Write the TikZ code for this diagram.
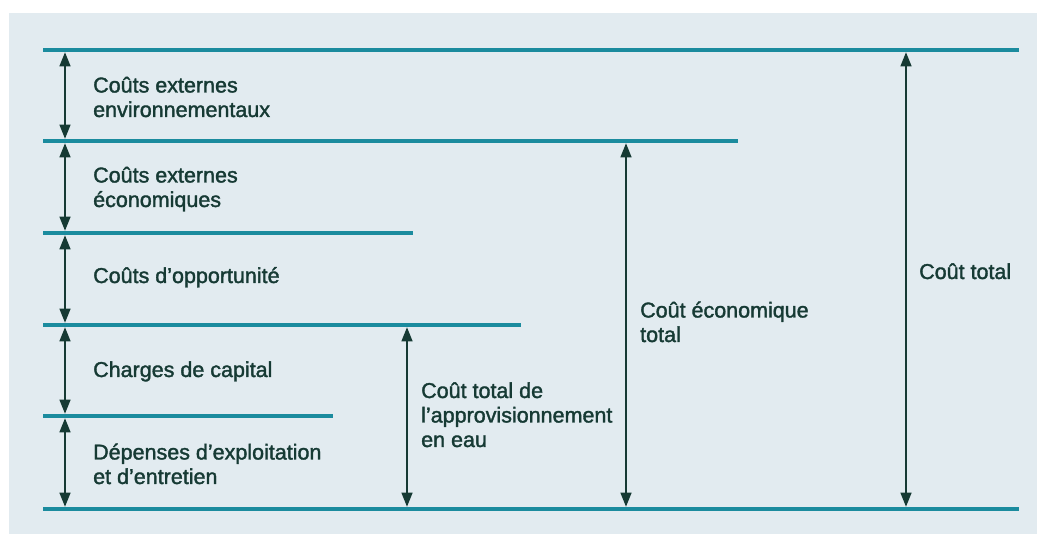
\documentclass[tikz,border=0pt]{standalone}
\usepackage{fontspec}
\setmainfont{Liberation Sans}
\newfontfamily\lblfont{Liberation Sans}[FakeBold=1.6]
\usetikzlibrary{arrows.meta}
\definecolor{bgblue}{RGB}{226,235,240}
\definecolor{levelteal}{RGB}{27,139,158}
\definecolor{inkgreen}{RGB}{22,58,52}
\begin{document}
\begin{tikzpicture}[x=1pt,y=-1pt,
  level/.style={levelteal,line width=4.5pt},
  span/.style={inkgreen,line width=1.3pt,{Triangle[width=11pt,length=14pt]}-{Triangle[width=11pt,length=14pt]},shorten <=2.3pt,shorten >=2.3pt},
  lbl/.style={inkgreen,font=\lblfont\fontsize{21.5}{24.5}\selectfont,anchor=base west,align=left,inner sep=0pt}]
\useasboundingbox (0,0) rectangle (1037,534);
\fill [white] (0,0) rectangle (1037,534);
\fill [bgblue] (9,13) rectangle (1037,534);
\coordinate (lv0) at (43,50);
\coordinate (lv1) at (43,141);
\coordinate (lv2) at (43,233);
\coordinate (lv3) at (43,325);
\coordinate (lv4) at (43,416);
\coordinate (lv5) at (43,509);
\coordinate (axl) at (65,0);
\coordinate (axw) at (407,0);
\coordinate (axe) at (626,0);
\coordinate (axt) at (906,0);
\draw [span] (axl |- lv0) -- (axl |- lv1);
\draw [span] (axl |- lv1) -- (axl |- lv2);
\draw [span] (axl |- lv2) -- (axl |- lv3);
\draw [span] (axl |- lv3) -- (axl |- lv4);
\draw [span] (axl |- lv4) -- (axl |- lv5);
\draw [span] (axw |- lv3) -- (axw |- lv5);
\draw [span] (axe |- lv1) -- (axe |- lv5);
\draw [span] (axt |- lv0) -- (axt |- lv5);
\draw [level] (lv0) -- ++(976,0);
\draw [level] (lv1) -- ++(695,0);
\draw [level] (lv2) -- ++(370,0);
\draw [level] (lv3) -- ++(478,0);
\draw [level] (lv4) -- ++(290,0);
\draw [level] (lv5) -- ++(976,0);
% two-line labels sit on the baseline of their last line
\node [lbl] (envext) at (93,117) {Coûts externes\\environnementaux};
\node [lbl] (ecoext) at (93,207) {Coûts externes\\économiques};
\node [lbl] (opport) at (93,283) {Coûts d’opportunité};
\node [lbl] (capital) at (93,377) {Charges de capital};
\node [lbl] (exploit) at (93,484) {Dépenses d’exploitation\\et d’entretien};
\node [lbl] (water) at (421,447) {Coût total de\\l’approvisionnement\\en eau};
\node [lbl] (econ) at (640,342) {Coût économique\\total};
\node [lbl] (total) at (919,279) {Coût total};
\end{tikzpicture}
\end{document}
